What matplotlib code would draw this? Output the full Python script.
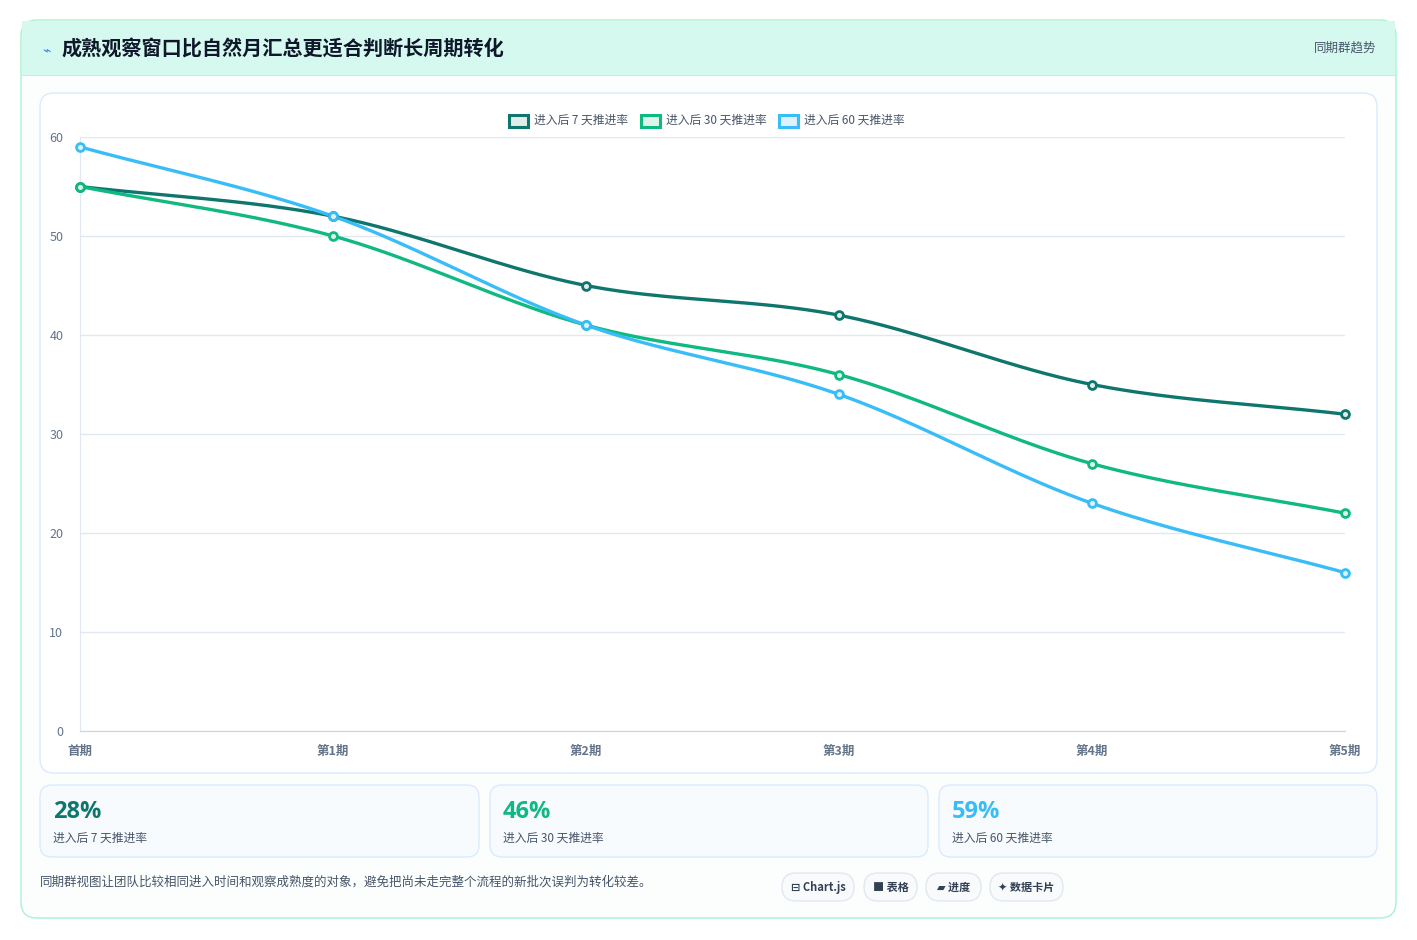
import matplotlib
matplotlib.use("Agg")
import matplotlib.pyplot as plt
import numpy as np
from matplotlib.patches import FancyBboxPatch, Rectangle

plt.rcParams['font.family'] = ['Noto Sans CJK SC', 'DejaVu Sans']

categories = ["首期", "第1期", "第2期", "第3期", "第4期", "第5期"]
series_names = ["进入后 7 天推进率", "进入后 30 天推进率", "进入后 60 天推进率"]
d7 = [55, 52, 45, 42, 35, 32]
d30 = [55, 50, 41, 36, 27, 22]
d60 = [59, 52, 41, 34, 23, 16]
stat_values = ["28%", "46%", "59%"]
colors = ["#0f766e", "#10b981", "#38bdf8"]
fills = ["#e2ecea", "#dcf5ea", "#dff2fb"]

W, H = 1417, 940
fig = plt.figure(figsize=(W/100, H/100), dpi=100)
fig.patch.set_facecolor("white")

def box(x, y, w, h, fc, ec, r=12, lw=1, z=0):
    p = FancyBboxPatch((x/W, 1-(y+h)/H), w/W, h/H,
                       boxstyle=f"round,pad=0,rounding_size={r/W}",
                       transform=fig.transFigure, fc=fc, ec=ec, lw=lw, zorder=z,
                       mutation_aspect=W/H)
    fig.add_artist(p)

def txt(x, y, s, **kw):
    fig.text(x/W, 1-y/H, s, **kw)

# outer card
box(21, 20, 1375, 898, "#fbfefd", "#a7f3d0", r=16)
fig.add_artist(Rectangle((22/W, 1-75/H), 1373/W, 54/H, transform=fig.transFigure,
                         fc="#d6f9ef", ec="none", zorder=0.5))
fig.add_artist(Rectangle((22/W, 1-76/H), 1373/W, 1/H, transform=fig.transFigure,
                         fc="#c6eee4", ec="none", zorder=0.6))
txt(42, 50, "⌁", color="#3b82f6", fontsize=10, va="center", family=['DejaVu Sans'])
txt(62, 49, "成熟观察窗口比自然月汇总更适合判断长周期转化", color="#0f172a", fontsize=14.5,
    fontweight="bold", va="center")
txt(1376, 48, "同期群趋势", color="#475569", fontsize=9, ha="right", va="center")

# chart panel
box(40, 93, 1337, 680, "white", "#dbeafe", r=14)

ax = fig.add_axes([80/W, 1-731/H, 1265/W, 594/H])
ax.set_facecolor("none")
x = np.arange(len(categories))

def smooth(xs, ys, n=40):
    xs = np.asarray(xs, float); ys = np.asarray(ys, float)
    k = len(xs)
    m = np.zeros(k)
    for i in range(k):
        if i == 0:
            m[i] = ys[1]-ys[0]
        elif i == k-1:
            m[i] = ys[-1]-ys[-2]
        else:
            m[i] = (ys[i+1]-ys[i-1])/2
    ox, oy = [], []
    for i in range(k-1):
        t = np.linspace(0, 1, n)
        h00 = 2*t**3-3*t**2+1; h10 = t**3-2*t**2+t
        h01 = -2*t**3+3*t**2; h11 = t**3-t**2
        ox.extend(xs[i]+t)
        oy.extend(h00*ys[i]+h10*m[i]+h01*ys[i+1]+h11*m[i+1])
    return ox, oy

for vals, c, f, name in zip([d7, d30, d60], colors, fills, series_names):
    sx, sy = smooth(x, vals)
    ax.plot(sx, sy, color=c, lw=2.4, zorder=3, clip_on=False)
    ax.scatter(x, vals, s=32, facecolor=f, edgecolor=c, linewidth=2, zorder=4, clip_on=False)

ax.set_xlim(0, 5)
ax.set_ylim(0, 60)
ax.set_yticks(range(0, 61, 10))
ax.set_xticks(x)
ax.set_xticklabels(categories, fontweight="bold")
ax.grid(axis="y", color="#e2e8f0", lw=1)
ax.tick_params(axis="both", length=0, colors="#64748b", labelsize=9)
ax.tick_params(axis="x", pad=10)
ax.tick_params(axis="y", pad=12)
for s in ["top", "right"]:
    ax.spines[s].set_visible(False)
ax.spines["left"].set_color("#e2e8f0")
ax.spines["bottom"].set_color("#cbd5e1")
ax.set_axisbelow(True)

# legend
lx = [509, 641, 779]
for xx, c, f, name in zip(lx, colors, fills, series_names):
    fig.add_artist(Rectangle((xx/W, 1-127/H), 19/W, 12/H, transform=fig.transFigure,
                             fc=f, ec=c, lw=2.2))
    txt(xx+25, 120, name, color="#475569", fontsize=8.5, va="center")

# stat cards
cards = [(40, 439), (490, 438), (939, 438)]
for (cx, cw), v, c, name in zip(cards, stat_values, colors, series_names):
    box(cx, 785, cw, 72, "#f8fbfe", "#dbeafe", r=12)
    txt(cx+13, 812, v, color=c, fontsize=17, fontweight="bold", va="center",
        family=['Open Sans', 'DejaVu Sans'])
    txt(cx+13, 838, name, color="#475569", fontsize=8.5, va="center")

txt(40, 882, "同期群视图让团队比较相同进入时间和观察成熟度的对象，避免把尚未走完整个流程的新批次误判为转化较差。",
    color="#475569", fontsize=9, va="center")

chips = [(782, 72, "⊟ Chart.js"), (864, 53, "■ 表格"), (926, 55, "▰ 进度"), (990, 73, "✦ 数据卡片")]
for cx, cw, s in chips:
    box(cx, 873, cw, 28, "#f8fafc", "#e2e8f0", r=14)
    txt(cx+cw/2, 887, s, color="#334155", fontsize=8, fontweight="bold", ha="center", va="center")

fig.savefig("out.png", dpi=100, facecolor="white")
